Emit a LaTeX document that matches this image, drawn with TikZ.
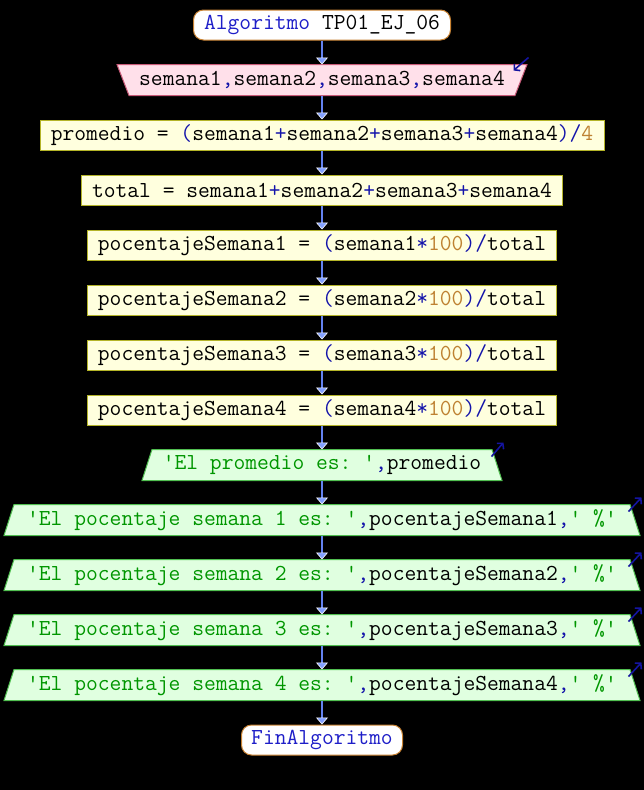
\documentclass[tikz,border=0pt]{standalone}
\usepackage{fontspec}
\setmonofont{Latin Modern Mono}
\usetikzlibrary{arrows.meta,calc}
\pgfdeclarelayer{bg}
\pgfdeclarelayer{shp}
\pgfsetlayers{bg,shp,main}
\definecolor{kwblue}{RGB}{30,30,200}
\definecolor{opblue}{RGB}{20,20,170}
\definecolor{numcol}{RGB}{190,130,50}
\definecolor{strcol}{RGB}{0,150,0}
\definecolor{startdraw}{RGB}{200,130,50}
\definecolor{infill}{RGB}{255,224,234}
\definecolor{indraw}{RGB}{200,90,120}
\definecolor{asfill}{RGB}{255,255,222}
\definecolor{asdraw}{RGB}{180,180,40}
\definecolor{outfill}{RGB}{224,255,224}
\definecolor{outdraw}{RGB}{80,190,80}
\definecolor{conncol}{RGB}{100,130,240}
\definecolor{tipfill}{RGB}{130,160,255}
\definecolor{smallcol}{RGB}{20,20,160}
\newcommand{\kw}[1]{\textcolor{kwblue}{#1}}
\newcommand{\op}[1]{\textcolor{opblue}{#1}}
\newcommand{\nm}[1]{\textcolor{numcol}{#1}}
\newcommand{\st}[1]{\textcolor{strcol}{#1}}
\tikzset{
  base/.style={inner sep=0pt, minimum height=30pt, line width=1pt,
    font=\ttfamily\fontsize{22.9pt}{22.9pt}\selectfont, text=black},
  startend/.style={base, rounded corners=10pt, draw=startdraw, fill=white},
  assign/.style={base, draw=asdraw, fill=asfill},
  plain/.style={base},
  conn/.style={draw=conncol, line width=2pt,
    -{Triangle[width=12pt,length=7pt,fill=tipfill,color=white,line width=0.6pt]}},
  smallarr/.style={draw=smallcol, line width=1.6pt,
    -{Straight Barb[length=4pt,width=9pt]}},
  inshape/.style={fill=infill, draw=indraw, line width=1pt},
  outshape/.style={fill=outfill, draw=outdraw, line width=1pt}
}
\begin{document}
\begin{tikzpicture}[x=1pt,y=-1pt]
\begin{pgfonlayer}{bg}
\fill[black] (0,0) rectangle (644,790);
\end{pgfonlayer}
\useasboundingbox (0,0) rectangle (644,790);

\node[startend, minimum width=257pt] (start) at (322,25) {\kw{Algoritmo} TP01\_EJ\_06};
\node[plain, minimum width=385pt] (in) at (322,80) {semana1\op{,}semana2\op{,}semana3\op{,}semana4};
\node[assign, minimum width=564pt] (a1) at (322,135) {promedio = \op{(}semana1\op{+}semana2\op{+}semana3\op{+}semana4\op{)/}\nm{4}};
\node[assign, minimum width=481pt] (a2) at (322,190) {total = semana1\op{+}semana2\op{+}semana3\op{+}semana4};
\node[assign, minimum width=469pt] (a3) at (322,245) {pocentajeSemana1 = \op{(}semana1\op{*}\nm{100}\op{)/}total};
\node[assign, minimum width=469pt] (a4) at (322,300) {pocentajeSemana2 = \op{(}semana2\op{*}\nm{100}\op{)/}total};
\node[assign, minimum width=469pt] (a5) at (322,355) {pocentajeSemana3 = \op{(}semana3\op{*}\nm{100}\op{)/}total};
\node[assign, minimum width=469pt] (a6) at (322,410) {pocentajeSemana4 = \op{(}semana4\op{*}\nm{100}\op{)/}total};
\node[plain, minimum width=339pt] (o0) at (322,465) {\st{'El promedio es: '}\op{,}promedio};
\node[plain, minimum width=615pt] (o1) at (322,520) {\st{'El pocentaje semana 1 es: '}\op{,}pocentajeSemana1\op{,}\st{' \%'}};
\node[plain, minimum width=615pt] (o2) at (322,575) {\st{'El pocentaje semana 2 es: '}\op{,}pocentajeSemana2\op{,}\st{' \%'}};
\node[plain, minimum width=615pt] (o3) at (322,630) {\st{'El pocentaje semana 3 es: '}\op{,}pocentajeSemana3\op{,}\st{' \%'}};
\node[plain, minimum width=615pt] (o4) at (322,685) {\st{'El pocentaje semana 4 es: '}\op{,}pocentajeSemana4\op{,}\st{' \%'}};
\node[startend, minimum width=161pt] (end) at (322,740) {\kw{FinAlgoritmo}};

\begin{pgfonlayer}{shp}
\path[inshape] (in.south west) -- (in.south east) -- ($(in.north east)+(12,0)$) -- ($(in.north west)+(-12,0)$) -- cycle;
\foreach \n in {o0,o1,o2,o3,o4}{
  \path[outshape] (\n.north west) -- (\n.north east) -- ($(\n.south east)+(10,0)$) -- ($(\n.south west)+(-10,0)$) -- cycle;
}
\end{pgfonlayer}

\draw[conn] (start.south) -- (in.north);
\draw[conn] (in.south) -- (a1.north);
\draw[conn] (a1.south) -- (a2.north);
\draw[conn] (a2.south) -- (a3.north);
\draw[conn] (a3.south) -- (a4.north);
\draw[conn] (a4.south) -- (a5.north);
\draw[conn] (a5.south) -- (a6.north);
\draw[conn] (a6.south) -- (o0.north);
\draw[conn] (o0.south) -- (o1.north);
\draw[conn] (o1.south) -- (o2.north);
\draw[conn] (o2.south) -- (o3.north);
\draw[conn] (o3.south) -- (o4.north);
\draw[conn] (o4.south) -- (end.north);

\draw[smallarr] ($(in.north east)+(13.5,-7)$) -- ($(in.north east)+(-1.5,6)$);
\draw[smallarr] ($(o0.north east)+(-0.5,7)$) -- ($(o0.north east)+(11.5,-7)$);
\foreach \n in {o1,o2,o3,o4}{
  \draw[smallarr] ($(\n.north east)+(-1.5,7)$) -- ($(\n.north east)+(11.5,-7)$);
}
\end{tikzpicture}
\end{document}
